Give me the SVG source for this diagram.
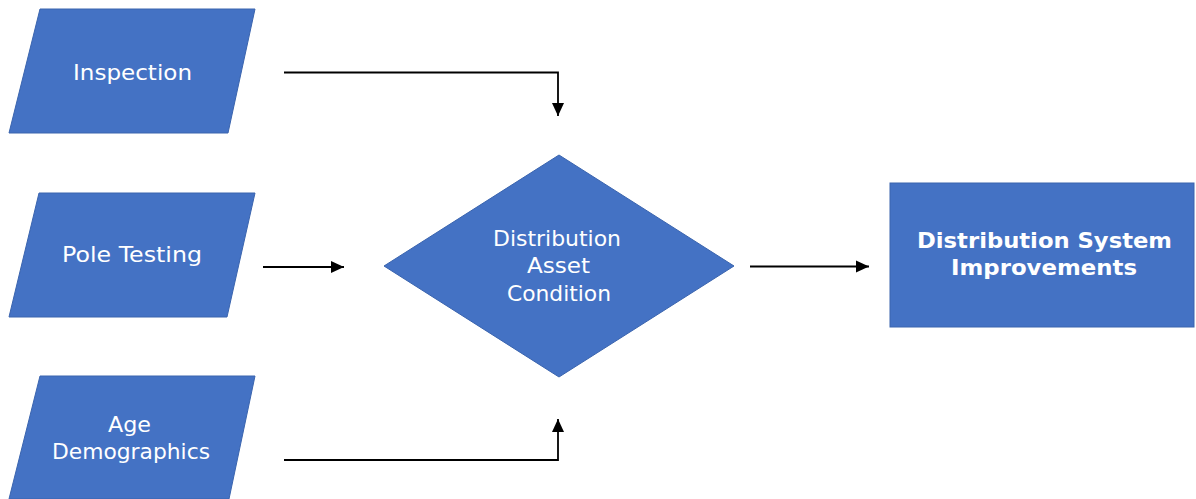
<svg xmlns="http://www.w3.org/2000/svg" width="1196" height="499" viewBox="0 0 1196 499">
  <style>
    .shape { fill: #4472C4; stroke: #3A64AE; stroke-width: 1; }
    .label { font-family: "DejaVu Sans", Verdana, sans-serif; font-size: 21px; fill: #ffffff; text-anchor: middle; }
    .bold { font-weight: bold; }
    .conn { fill: none; stroke: #000000; stroke-width: 1.8; }
  </style>
  <defs>
    <marker id="arrow" markerUnits="userSpaceOnUse" markerWidth="16" markerHeight="16" viewBox="0 0 16 16" refX="13" refY="8" orient="auto">
      <path d="M0,2 L13,8 L0,14 Z" fill="#000000"/>
    </marker>
  </defs>
  <rect width="1196" height="499" fill="#ffffff"/>

  <!-- input nodes -->
  <g id="inspection">
    <polygon class="shape" points="40,9 255,9 228,133 9,133"/>
    <text class="label" x="132.5" y="80" textLength="119" lengthAdjust="spacingAndGlyphs">Inspection</text>
  </g>
  <g id="pole-testing">
    <polygon class="shape" points="39,193 255,193 227,317 9,317"/>
    <text class="label" x="132" y="262" textLength="140" lengthAdjust="spacingAndGlyphs">Pole Testing</text>
  </g>
  <g id="age-demographics">
    <polygon class="shape" points="40,376 255,376 229,499 9,499"/>
    <text class="label" x="129.5" y="432" textLength="43" lengthAdjust="spacingAndGlyphs">Age</text>
    <text class="label" x="131" y="459" textLength="158" lengthAdjust="spacingAndGlyphs">Demographics</text>
  </g>

  <!-- decision node -->
  <g id="asset-condition">
    <polygon class="shape" points="559,155 734,266 559,377 384,266"/>
    <text class="label" x="557" y="246" textLength="128" lengthAdjust="spacingAndGlyphs">Distribution</text>
    <text class="label" x="558.5" y="273" textLength="63" lengthAdjust="spacingAndGlyphs">Asset</text>
    <text class="label" x="559" y="301" textLength="104" lengthAdjust="spacingAndGlyphs">Condition</text>
  </g>

  <!-- outcome node -->
  <g id="system-improvements">
    <rect class="shape" x="890" y="183" width="304" height="144"/>
    <text class="label bold" x="1044.5" y="248" textLength="255" lengthAdjust="spacingAndGlyphs">Distribution  System</text>
    <text class="label bold" x="1044" y="275" textLength="186" lengthAdjust="spacingAndGlyphs">Improvements</text>
  </g>

  <!-- connectors -->
  <g id="connectors">
    <path class="conn" d="M284,72.5 H558 V116" marker-end="url(#arrow)"/>
    <path class="conn" d="M263,267 H344" marker-end="url(#arrow)"/>
    <path class="conn" d="M284,460 H558 V419" marker-end="url(#arrow)"/>
    <path class="conn" d="M750,266.5 H869" marker-end="url(#arrow)"/>
  </g>
</svg>
